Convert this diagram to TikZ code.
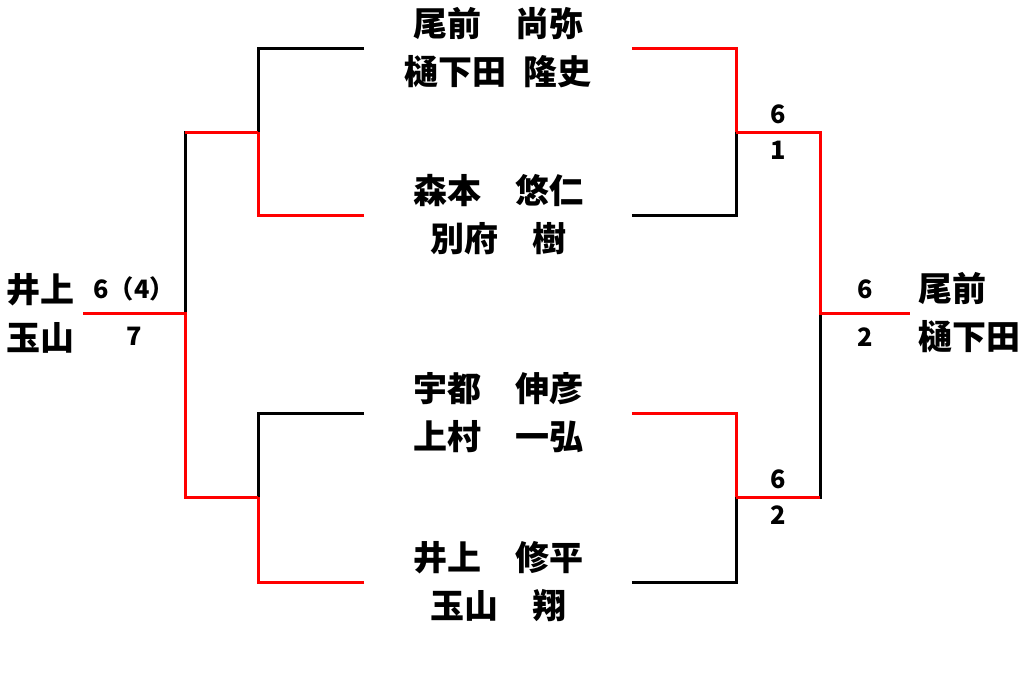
\documentclass[tikz,border=0pt]{standalone}
\usepackage{fontspec}
\newfontfamily\cjk{Noto Sans CJK JP}
\usetikzlibrary{positioning}
\definecolor{kachiiro}{RGB}{255,0,0}

\begin{document}
\begin{tikzpicture}
        [
        x=0.75pt, y=-0.75pt,
            meibo/.style={
                font=\cjk\bfseries\fontsize{25.5}{36}\selectfont,
                align=center,
                minimum width=200.25pt,
                inner sep=0pt
            },
            yushou/.style={
                font=\cjk\bfseries\fontsize{25.5}{36}\selectfont,
                align=left,
                inner xsep=6pt,
                inner ysep=0pt
            },
            tensu/.style={
                font=\cjk\bfseries\fontsize{19}{22}\selectfont,
                inner sep=0pt,
                text height=13.9pt,
                text depth=0pt
            },
            kuro/.style={
                line width=2.25pt,
                black
            },
            aka/.style={
                line width=2.25pt,
                kachiiro
            }
        ]
        \useasboundingbox (0,0) rectangle (1024,690);

        \node(kumi1) [meibo] at (498,48) {尾前　尚弥\\樋下田\hspace{.5em}隆史};
        \node(kumi2) [meibo] at (498,215) {森本　悠仁\\別府　樹};
        \node(kumi3) [meibo] at (498,413) {宇都　伸彦\\上村　一弘};
        \node(kumi4) [meibo] at (498,582) {井上　修平\\玉山　翔};

        \coordinate (la) at (258,132);
        \coordinate (lb) at (258,497);
        \coordinate (lc) at (185,313);
        \coordinate (ra) at (736,132);
        \coordinate (rb) at (736,497);
        \coordinate (rc) at (820,313);

        \node(hidari) [yushou] at (41,313) {井上\\玉山};
        \node(migi) [yushou, anchor=west] at (910,313) {尾前\\樋下田};

        \coordinate (lm) at (134,313);
        \coordinate (ram) at (778,132);
        \coordinate (rbm) at (778,497);
        \coordinate (rcm) at (865,313);

        \node(lmue) [tensu, above=10.5pt of lm] {6（4）};
        \node(lmshita) [tensu, below=10.5pt of lm] {7};
        \node(raue) [tensu, above=6.5pt of ram] {6};
        \node(rashita) [tensu, below=6.5pt of ram] {1};
        \node(rbue) [tensu, above=6.5pt of rbm] {6};
        \node(rbshita) [tensu, below=6.5pt of rbm] {2};
        \node(rcue) [tensu, above=11pt of rcm] {6};
        \node(rcshita) [tensu, below=11pt of rcm] {2};

        % left side
        \draw[kuro] (kumi1.west) -| (la);
        \draw[kuro] (kumi3.west) -| (lb);
        \draw[kuro] (la) -| (lc);
        \draw[aka] (kumi2.west) -| (la);
        \draw[aka] (kumi4.west) -| (lb);
        \draw[aka] (la) -- (la -| lc);
        \draw[aka] (lb) -| (lc) -- (hidari.east);

        % right side
        \draw[kuro] (kumi2.east) -| (ra);
        \draw[kuro] (kumi4.east) -| (rb);
        \draw[kuro] (rb) -| (rc);
        \draw[aka] (kumi1.east) -| (ra);
        \draw[aka] (kumi3.east) -| (rb);
        \draw[aka] (rb) -- (rb -| rc);
        \draw[aka] (ra) -| (rc) -- (migi.west);
    \end{tikzpicture}
\end{document}
